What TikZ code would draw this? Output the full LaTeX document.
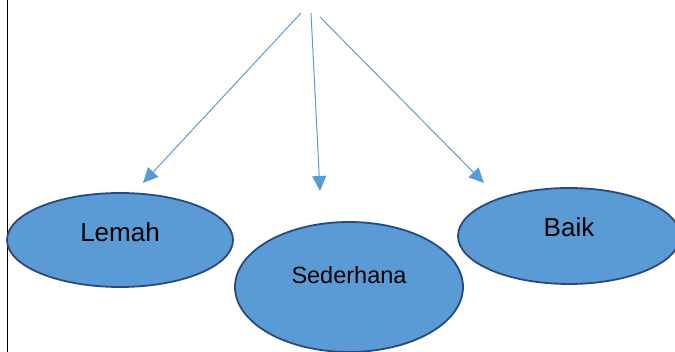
\documentclass[tikz,border=0pt]{standalone}
\usepackage{fontspec}
\setmainfont{Liberation Sans}
\usepackage{xcolor}
\usetikzlibrary{shapes.geometric,arrows.meta}
\definecolor{ovalfill}{RGB}{91,155,213}
\definecolor{ovalline}{RGB}{40,74,125}
\definecolor{arrowblue}{RGB}{91,155,213}

\begin{document}
\begin{tikzpicture}[x=1pt, y=1pt,
    oval/.style={ellipse, draw=ovalline, line width=1.8pt, fill=ovalfill,
      inner sep=0pt, font=\fontsize{26}{30}\selectfont},
    branch/.style={arrowblue, line width=1pt,
      -{Triangle[length=15pt, width=14pt]}}]
  \useasboundingbox (0, 0) rectangle (675, 352);
  \clip (0, 0) rectangle (675, 352);

  \draw[line width=1.4pt] (7.5, 0) -- (7.5, 352);

  \node[oval, minimum width=226, minimum height=94]
    (lemah) at (120, 112) {\raisebox{15pt}{Lemah}};

  \node[oval, minimum width=228, minimum height=130,
    font=\fontsize{23.5}{28}\selectfont]
    (sederhana) at (349, 65) {\raisebox{24pt}{Sederhana}};

  \node[oval, minimum width=222, minimum height=96]
    (baik) at (569, 116) {\raisebox{17pt}{Baik}};

  \coordinate (topL) at (301, 339);
  \coordinate (topM) at (311, 339);
  \coordinate (topR) at (320, 335);

  \coordinate (tipL) at (143, 169);
  \coordinate (tipM) at (320, 161);
  \coordinate (tipR) at (484, 169);

  \draw[branch] (topL) -- (tipL);
  \draw[branch] (topM) -- (tipM);
  \draw[branch] (topR) -- (tipR);
\end{tikzpicture}
\end{document}
